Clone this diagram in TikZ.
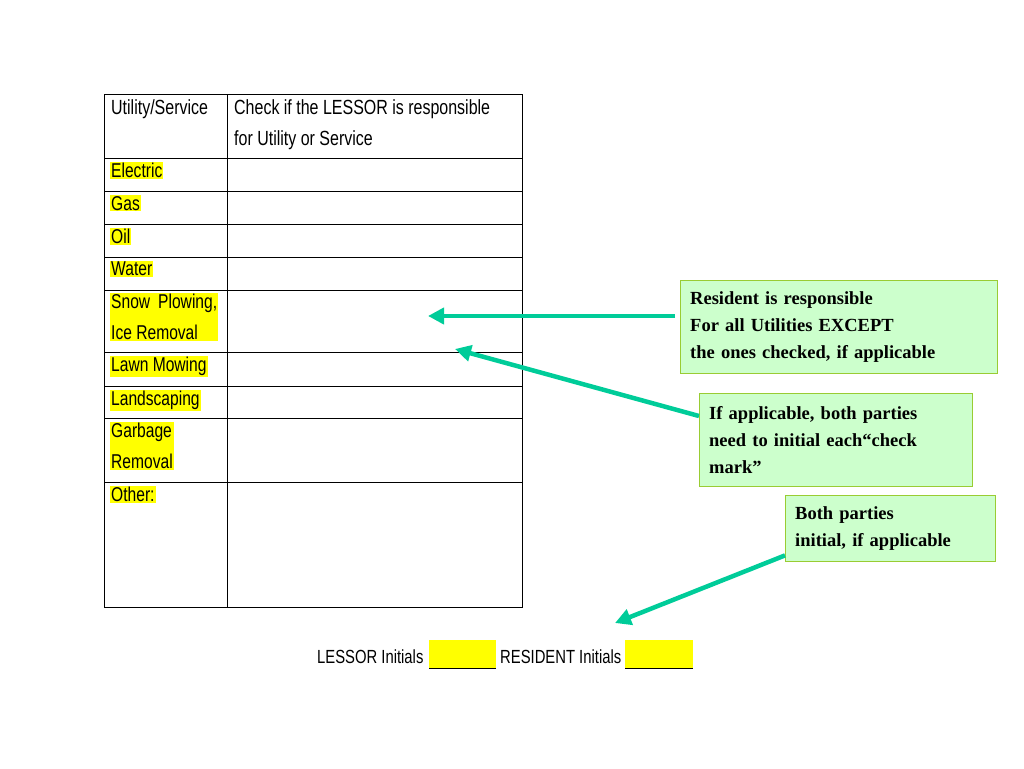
\documentclass[tikz,border=0pt]{standalone}
\usepackage{fontspec}
\setmainfont{Liberation Serif}
\newfontfamily\narrow[FakeStretch=0.78]{Liberation Sans}
\usetikzlibrary{arrows.meta}
\definecolor{hl}{RGB}{255,255,0}
\definecolor{boxfill}{RGB}{204,255,204}
\definecolor{boxline}{RGB}{153,204,51}
\definecolor{arr}{RGB}{0,204,153}
\tikzset{
 cell/.style={anchor=north west,inner sep=1pt,font=\narrow\fontsize{20.5}{31}\selectfont,align=left},
 lab/.style={anchor=north west,inner sep=1pt,fill=hl,font=\narrow\fontsize{20}{31}\selectfont,align=left},
 note/.style={draw=boxline,fill=boxfill,anchor=north west,align=left,inner ysep=0pt,inner xsep=10pt,font=\bfseries\fontsize{18.5}{27}\selectfont},
 pointer/.style={draw=arr,line width=4.5pt,-{Triangle[length=16pt,width=16pt]}}
}
\begin{document}
\begin{tikzpicture}[x=1pt,y=-1pt]
\useasboundingbox (0,0) rectangle (1024,768);
\draw[line width=1pt] (104,94) rectangle (522,607);
\draw[line width=1pt] (227,94) -- (227,607);
\foreach \y in {158,191,224,257,290,352,386,418,482} \draw[line width=1pt] (104,\y)--(522,\y);
\node[cell] (h1) at (110,98) {Utility/Service};
\node[cell] (h2) at (233,98) {Check if the LESSOR is responsible\\for Utility or Service};
\node[lab] (l1) at (110,162) {Electric};
\node[lab] (l2) at (110,195) {Gas};
\node[lab] (l3) at (110,228) {Oil};
\node[lab] (l4) at (110,261) {Water};
\node[lab] (l5) at (110,293) {Snow\hspace{8pt}Plowing,\\Ice Removal};
\node[lab] (l6) at (110,356) {Lawn Mowing};
\node[lab] (l7) at (110,390) {Landscaping};
\node[lab] (l8) at (110,422) {Garbage\\Removal};
\node[lab] (l9) at (110,486) {Other:};
\node[note,minimum height=93pt,text width=297pt] (n1) at (680,280) {Resident is responsible\\For all Utilities EXCEPT\\the ones checked, if applicable};
\node[note,minimum height=93pt,text width=253pt] (n2) at (699,393) {If applicable, both parties\\need to initial each``check\\mark''};
\node[note,minimum height=66pt,text width=190pt] (n3) at (785,495) {Both parties\\initial, if applicable};
\coordinate (t1) at (428,316);
\coordinate (t2) at (455,349);
\coordinate (t3) at (615,623);
\draw[pointer] (n1.west |- t1) ++(-5,0) -- (t1);
\draw[pointer] (699,416) -- (t2);
\draw[pointer] (n3.south west) ++(0,-6) -- (t3);
\node[anchor=west,inner sep=0pt,font=\narrow\fontsize{19}{22}\selectfont] (b1) at (317,657) {LESSOR Initials};
\fill[hl] (429,640) rectangle (496,668);
\draw (429,668)--(496,668);
\node[anchor=west,inner sep=0pt,font=\narrow\fontsize{19}{22}\selectfont] (b2) at (500,657) {RESIDENT Initials};
\fill[hl] (625,640) rectangle (693,668);
\draw (625,668)--(693,668);
\end{tikzpicture}
\end{document}
